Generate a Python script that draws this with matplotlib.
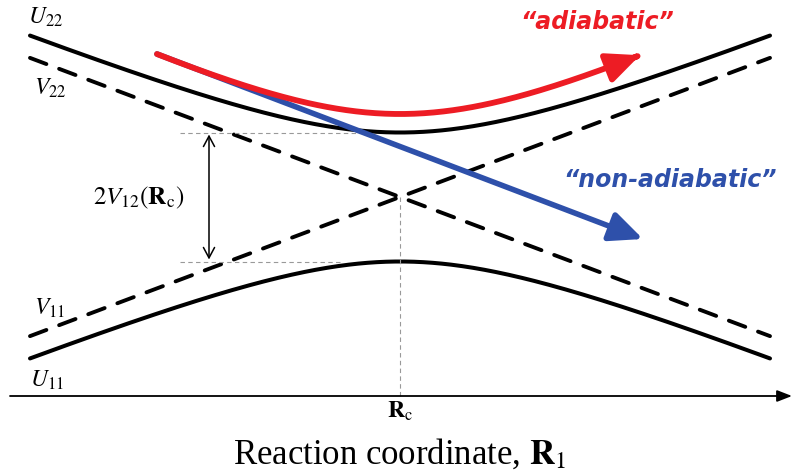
import numpy as np
import matplotlib
matplotlib.use("Agg")
import matplotlib.pyplot as plt
from matplotlib.patches import FancyArrowPatch
from matplotlib.path import Path

plt.rcParams['mathtext.fontset'] = 'stix'
plt.rcParams['font.family'] = ['Liberation Serif', 'DejaVu Serif']

# Two-state model along the reaction coordinate (arbitrary units, crossing at Rc)
R_c = 0.0
E_c = 0.0
R_range = (-3.7, 3.7)
diabatic_slope = 0.376     # dV/dR of the crossing diabatic states
adiabatic_slope = 0.40     # asymptotic slope of the adiabatic surfaces
V12 = 0.645                # coupling at the crossing (half the gap)

# "adiabatic" path drawn above the upper surface
path_slope = 0.479
path_offset = 0.83
path_range = (-2.43, 2.40)

# "non-adiabatic" path stays on the diabatic surface
nonad_start = (-2.43, 1.43)
nonad_end = (2.43, -0.42)

red = '#ED1C24'
blue = '#2E50AA'

fig = plt.figure(figsize=(7.93, 4.77), dpi=100)
ax = fig.add_axes([0, 0, 1, 1])
ax.set_xlim(-4.0, 3.93)
ax.set_ylim(-2.79, 1.98)
ax.axis('off')

R = np.linspace(*R_range, 400)
V11 = E_c + diabatic_slope * (R - R_c)
V22 = E_c - diabatic_slope * (R - R_c)
U22 = E_c + np.sqrt((adiabatic_slope * (R - R_c)) ** 2 + V12 ** 2)
U11 = E_c - np.sqrt((adiabatic_slope * (R - R_c)) ** 2 + V12 ** 2)

dash = (0, (4.5, 3.5))
ax.plot(R, V11, color='black', lw=2.8, ls=dash, dash_capstyle='round')
ax.plot(R, V22, color='black', lw=2.8, ls=dash, dash_capstyle='round')
ax.plot(R, U22, color='black', lw=2.9, solid_capstyle='round')
ax.plot(R, U11, color='black', lw=2.9, solid_capstyle='round')

# guide lines at the gap and at the crossing point
gx0 = -2.2
ax.plot([gx0, -0.4], [E_c + V12, E_c + V12], color='#999999', lw=0.8, ls=(0, (4, 3)))
ax.plot([gx0, -0.6], [E_c - V12, E_c - V12], color='#999999', lw=0.8, ls=(0, (4, 3)))
ax.plot([R_c, R_c], [E_c, -1.99], color='#999999', lw=0.8, ls=(0, (4, 3)))

# double arrow for the splitting 2V12
ax.annotate('', xy=(-1.91, E_c + V12 - 0.02), xytext=(-1.91, E_c - V12 + 0.02),
            arrowprops=dict(arrowstyle='<->,head_length=0.75,head_width=0.4',
                            lw=1.1, color='black', shrinkA=0, shrinkB=0))
ax.text(-2.61, E_c + 0.0, r'$2V_{12}(\mathbf{R}_{\mathrm{c}})$', fontsize=18,
        ha='center', va='center')

# reaction-coordinate axis
ax.annotate('', xy=(3.92, -1.99), xytext=(-3.9, -1.99),
            arrowprops=dict(arrowstyle='-|>,head_length=0.9,head_width=0.35',
                            lw=1.3, color='black', shrinkA=0, shrinkB=0))
ax.text(R_c, -2.13, r'$\mathbf{R}_{\mathrm{c}}$', fontsize=17, ha='center', va='center')
ax.text(R_c, -2.56, r'Reaction coordinate, $\mathbf{R}_{1}$', fontsize=25,
        ha='center', va='center')

# state labels
ax.text(-3.72, 1.81, r'$U_{22}$', fontsize=17, ha='left', va='center')
ax.text(-3.66, 1.10, r'$V_{22}$', fontsize=17, ha='left', va='center')
ax.text(-3.66, -1.10, r'$V_{11}$', fontsize=17, ha='left', va='center')
ax.text(-3.70, -1.82, r'$U_{11}$', fontsize=17, ha='left', va='center')

head = '-|>,head_length=20,head_width=9'

# non-adiabatic path (straight, underneath)
nonad = FancyArrowPatch(nonad_start, nonad_end, arrowstyle=head,
                        color=blue, lw=4.0, shrinkA=0, shrinkB=0, zorder=5)
ax.add_patch(nonad)

# adiabatic path following the upper surface
Rp = np.linspace(*path_range, 200)
Ep = E_c + np.sqrt((path_slope * (Rp - R_c)) ** 2 + path_offset ** 2)
codes = [Path.MOVETO] + [Path.LINETO] * (len(Rp) - 1)
ad = FancyArrowPatch(path=Path(np.column_stack([Rp, Ep]), codes), arrowstyle=head,
                     color=red, lw=4.2, shrinkA=0, shrinkB=0, zorder=6)
ax.add_patch(ad)

ax.text(1.97, 1.76, '\u201cadiabatic\u201d', color=red, fontsize=17,
        fontfamily='DejaVu Sans', fontweight='bold', fontstyle='oblique',
        ha='center', va='center')
ax.text(2.70, 0.18, '\u201cnon-adiabatic\u201d', color=blue, fontsize=17,
        fontfamily='DejaVu Sans', fontweight='bold', fontstyle='oblique',
        ha='center', va='center')

fig.savefig('out.png', dpi=100)
